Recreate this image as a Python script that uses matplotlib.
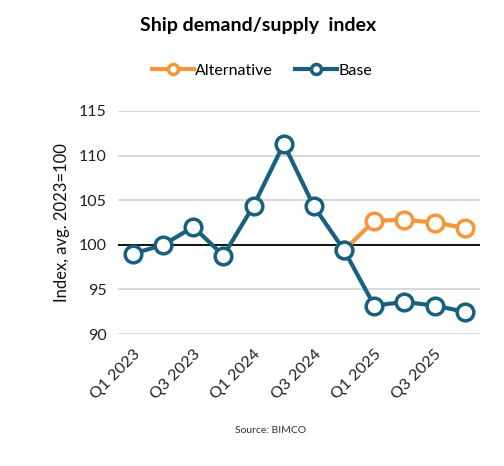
import matplotlib.pyplot as plt

plt.rcParams['font.family'] = ['Lato', 'DejaVu Sans']

quarters = ["Q1 2023", "Q2 2023", "Q3 2023", "Q4 2023",
            "Q1 2024", "Q2 2024", "Q3 2024", "Q4 2024",
            "Q1 2025", "Q2 2025", "Q3 2025", "Q4 2025"]
base = [99.0, 100.0, 102.0, 98.8, 104.4, 111.3, 104.3, 99.4, 93.2, 93.6, 93.2, 92.5]
alt_quarters = quarters[7:]
alternative = [99.4, 102.7, 102.8, 102.5, 101.9]
yticks = [90, 95, 100, 105, 110, 115]

blue = "#17607e"
orange = "#f7953a"

fig = plt.figure(figsize=(5.04, 4.66), dpi=100)
ax = fig.add_axes([0.234, 0.283, 0.718, 0.479])

x = list(range(len(quarters)))
alt_x = [quarters.index(q) for q in alt_quarters]

mk = dict(marker="o", markersize=12, markerfacecolor="white", markeredgewidth=2.5, linewidth=3)
ax.plot(alt_x, alternative, color=orange, label="Alternative", zorder=3, **mk)
ax.plot(x, base, color=blue, label="Base", zorder=4, **mk)

ax.axhline(100, color="black", linewidth=1.3, zorder=2)
ax.set_ylim(90, 115)
ax.set_xlim(-0.5, len(quarters) - 0.5)
ax.set_yticks(yticks)
ax.yaxis.grid(True, color="#d9d9d9", linewidth=1.5)
ax.set_axisbelow(True)
for s in ax.spines.values():
    s.set_visible(False)
ax.tick_params(axis="both", length=0, labelsize=11.5, colors="#222222")
ax.tick_params(axis="y", pad=8)
ax.tick_params(axis="x", pad=9)

ax.set_xticks(x[::2])
ax.set_xticklabels(quarters[::2], rotation=45, ha="right", rotation_mode="anchor")
ax.set_ylabel("Index, avg. 2023=100", fontsize=12, color="#111111", labelpad=6)

fig.text(0.512, 0.946, "Ship demand/supply  index", ha="center", va="center",
         fontsize=14, fontweight="bold")
fig.legend(loc="center", bbox_to_anchor=(0.52, 0.848), ncol=2, frameon=False,
           fontsize=11.5, handlelength=2.6, columnspacing=1.4, handletextpad=0.1,
           markerscale=0.6)
fig.text(0.536, 0.077, "Source: BIMCO", ha="center", va="center", fontsize=7.5, color="#333333")

fig.savefig("out.png", dpi=100)
